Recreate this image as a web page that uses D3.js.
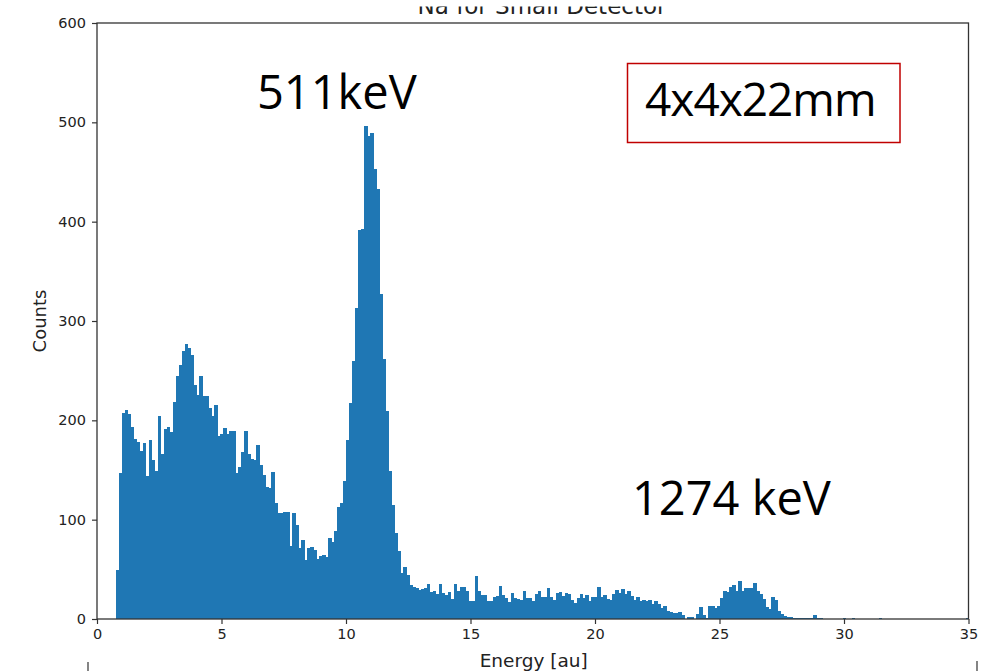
<!DOCTYPE html>
<html><head><meta charset="utf-8">
<script src="https://cdn.jsdelivr.net/npm/d3@7"></script>
<style>html,body{margin:0;padding:0;background:#fff;overflow:hidden}</style>
</head><body>
<svg id="chart" width="989" height="671"></svg>
<script>
// ---------- data ----------
const titleMain = "Na for Small Detector";
const xLabel = "Energy [au]";
const yLabel = "Counts";
const xTicks = [0, 5, 10, 15, 20, 25, 30, 35];
const yTicks = [0, 100, 200, 300, 400, 500, 600];
const peakLabels = ["511keV", "1274 keV"];
const boxLabel = "4x4x22mm";
const binStart = 0.75;
const binWidth = 0.12018;
const counts = [
  49,147,207,210,206,193,181,178,169,177,
  144,180,160,149,204,166,191,193,188,218,
  245,256,270,277,273,266,236,226,245,225,
  224,212,204,215,184,186,192,186,189,189,
  147,153,168,189,166,161,160,175,155,145,
  133,132,148,117,107,107,108,108,73,107,
  95,71,80,59,71,72,69,60,63,64,
  62,82,78,89,113,117,139,180,217,260,
  313,392,393,496,486,489,453,433,327,262,
  209,149,115,87,68,46,52,44,34,32,
  31,29,30,31,35,27,28,25,35,26,
  24,27,20,35,28,32,32,28,18,18,
  43,28,24,24,18,18,22,23,33,24,
  21,17,26,21,20,19,28,21,21,18,
  25,28,22,22,31,22,19,26,27,23,
  26,25,19,16,21,25,21,24,18,22,
  22,32,22,24,20,19,25,29,26,30,
  25,28,23,19,22,18,19,18,19,15,
  18,15,11,13,8,7,6,6,7,4,
  0,2,2,0,5,12,4,1,13,13,
  11,13,21,28,27,32,34,28,38,28,
  31,31,31,36,28,25,20,12,10,22,
  19,8,5,3,2,2,1,1,1,1,
  1,1,1,4,1,1,0,0,0,0,
  0,0,0,1,0,0,1,0,0,0,
  0,0,0,0,0,1,0,0,0,0,
  0,0,0,0,0,0,0,0,0,0,
  0,0,0,0,0,0,0,0,0,0,
  0,0,0,0,1
];

// ---------- drawing ----------
const svg = d3.select("#chart");
const x = d3.scaleLinear().domain([0, 35]).range([97, 968.5]);
const y = d3.scaleLinear().domain([0, 600]).range([619, 23]);
const axisColor = "#333";
const barColor = "#1f77b4";
const tickFont = "DejaVu Sans, sans-serif";

// title (its upper part is cut off in the reference)
const defs = svg.append("defs");
defs.append("clipPath").attr("id", "titleClip")
  .append("rect").attr("x", 0).attr("y", 6.5).attr("width", 989).attr("height", 30);
svg.append("text")
  .attr("clip-path", "url(#titleClip)")
  .attr("x", 542)
  .attr("y", 13.5)
  .attr("text-anchor", "middle")
  .attr("font-family", tickFont)
  .attr("font-size", 23)
  .attr("fill", "#222")
  .text(titleMain);

// bars (slight overlap so neighbouring bars merge into a solid histogram)
svg.append("g").attr("shape-rendering", "crispEdges")
  .selectAll("rect").data(counts.map((c, i) => ({c, i})).filter(d => d.c > 0)).join("rect")
  .attr("x", d => x(binStart + d.i * binWidth))
  .attr("width", d => x(binStart + (d.i + 1) * binWidth) - x(binStart + d.i * binWidth) + 0.6)
  .attr("y", d => y(d.c))
  .attr("height", d => y(0) - y(d.c))
  .attr("fill", barColor);

// axes
const xAxis = svg.append("g").attr("transform", `translate(0,${y(0)})`)
  .call(d3.axisBottom(x).tickValues(xTicks).tickFormat(d3.format("d")).tickSize(5).tickPadding(5));
const yAxis = svg.append("g").attr("transform", `translate(${x(0)},0)`)
  .call(d3.axisLeft(y).tickValues(yTicks).tickFormat(d3.format("d")).tickSize(5).tickPadding(6));
[xAxis, yAxis].forEach(g => {
  g.select(".domain").remove();
  g.selectAll(".tick line").attr("stroke", axisColor).attr("stroke-width", 1.2);
  g.selectAll(".tick text").attr("fill", "#222").attr("font-family", tickFont).attr("font-size", 14.5);
});

// frame (spines)
svg.append("rect")
  .attr("x", x(0)).attr("y", y(600))
  .attr("width", x(35) - x(0)).attr("height", y(0) - y(600))
  .attr("fill", "none").attr("stroke", axisColor).attr("stroke-width", 1.3);

// axis labels
svg.append("text")
  .attr("transform", `translate(46,${(y(0) + y(600)) / 2}) rotate(-90)`)
  .attr("text-anchor", "middle")
  .attr("font-family", tickFont).attr("font-size", 18).attr("fill", "#222")
  .text(yLabel);
svg.append("text")
  .attr("x", (x(0) + x(35)) / 2 + 1).attr("y", 666.5)
  .attr("text-anchor", "middle")
  .attr("font-family", tickFont).attr("font-size", 18.5).attr("fill", "#222")
  .text(xLabel);

// annotations
const annFont = "'Open Sans', 'Noto Sans', sans-serif";
svg.append("text").attr("x", 257).attr("y", 109)
  .attr("font-family", annFont).attr("font-size", 47).attr("fill", "#000")
  .text(peakLabels[0]);
svg.append("text").attr("x", 632).attr("y", 515)
  .attr("font-family", annFont).attr("font-size", 47).attr("fill", "#000")
  .text(peakLabels[1]);
svg.append("rect")
  .attr("x", 627.5).attr("y", 63.5).attr("width", 272.5).attr("height", 79)
  .attr("fill", "#fff").attr("stroke", "#c00000").attr("stroke-width", 1.5);
svg.append("text").attr("x", 645).attr("y", 116)
  .attr("font-family", annFont).attr("font-size", 46).attr("letter-spacing", -1)
  .attr("fill", "#000")
  .text(boxLabel);

// top edge of the next figure peeking in at the bottom
svg.append("line").attr("x1", 88).attr("x2", 88).attr("y1", 662).attr("y2", 671)
  .attr("stroke", axisColor).attr("stroke-width", 1.2);
svg.append("line").attr("x1", 977).attr("x2", 977).attr("y1", 661).attr("y2", 671)
  .attr("stroke", axisColor).attr("stroke-width", 1.2);
</script>
</body></html>
